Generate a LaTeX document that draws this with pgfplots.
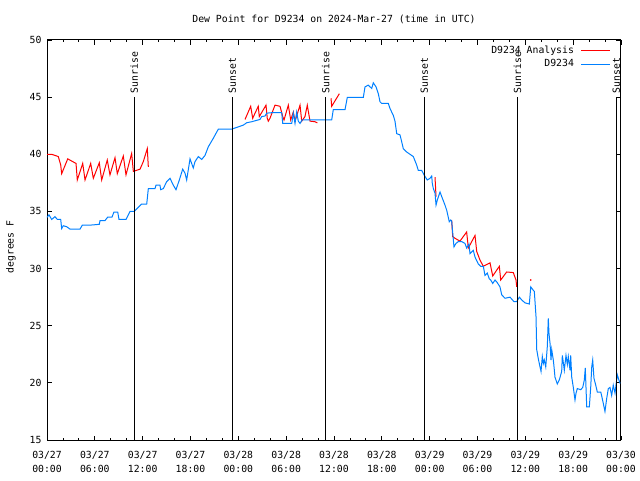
\documentclass[border=0pt]{standalone}
\usepackage{pgfplots}
\pgfplotsset{compat=1.18}
\usepackage{fontspec}
\setmainfont{DejaVu Sans Mono}
\definecolor{obsblue}{RGB}{0,128,255}
\definecolor{anared}{RGB}{255,0,0}

\begin{document}
\begin{tikzpicture}
\fontsize{9.8}{12}\selectfont
\useasboundingbox (0,0) rectangle (640pt,480pt);
\begin{axis}[
    at={(47pt,40pt)}, anchor=south west,
    scale only axis, width=574pt, height=400pt,
    xmin=0, xmax=72, ymin=15, ymax=50,
    axis line style={line width=1pt},
    every tick/.style={black, line width=0.8pt},
    major tick length=4.5pt, minor tick length=2.5pt,
    xtick={0,6,...,72},
    minor x tick num=2,
    xticklabels={{03/27\\00:00},{03/27\\06:00},{03/27\\12:00},{03/27\\18:00},
                 {03/28\\00:00},{03/28\\06:00},{03/28\\12:00},{03/28\\18:00},
                 {03/29\\00:00},{03/29\\06:00},{03/29\\12:00},{03/29\\18:00},
                 {03/30\\00:00}},
    xticklabel style={align=center, font=\fontsize{9.8}{13.5}\selectfont, yshift=-8pt},
    ytick={15,20,...,50},
    yticklabel style={font=\fontsize{9.8}{12}\selectfont, xshift=-2pt},
    /pgf/number format/assume math mode=true,
    title={Dew Point for D9234 on 2024-Mar-27 (time in UTC)},
    title style={at={(axis description cs:0.5,1.051)}, anchor=center, yshift=-6pt, font=\fontsize{9.8}{12}\selectfont},
    ylabel={degrees F},
    ylabel style={at={(axis description cs:-0.0627,0.4825)}, anchor=center, font=\fontsize{9.8}{12}\selectfont},
    legend style={draw=none, fill=none, at={(axis description cs:0.988,0.9925)}, anchor=north east,
        font=\fontsize{9.8}{12}\selectfont, row sep=2.3pt,
        nodes={inner sep=1pt, text height=7pt, text depth=2pt},
        /tikz/every odd column/.append style={column sep=6pt}},
    legend cell align=right,
    legend plot pos=right,
    legend image code/.code={\draw[#1] (0pt,0pt) -- (29pt,0pt);},
    unbounded coords=jump,
    clip=false,
]

% analysis (red)
\addplot[anared, line width=1pt] coordinates {
(0,40.0) (0.59,40.0) (1.42,39.8) (1.72,39.06) (1.84,38.3) (2.60,39.6) (3.22,39.36)
(3.64,39.2) (3.80,37.75) (4.48,39.2) (4.77,37.75) (5.48,39.2) (5.81,37.9) (6.56,39.26)
(6.86,37.75) (7.56,39.5) (7.90,38.2) (8.53,39.7) (8.82,38.3) (9.57,39.85) (9.91,38.2)
(10.62,40.07) (10.83,38.5) (11.25,38.6) (11.67,38.7) (12.08,39.36) (12.58,40.5) (12.71,38.9)
(12.8,nan)
(24.84,43.05) (25.55,44.2) (25.80,43.15) (26.50,44.2) (26.63,43.3) (27.47,44.3) (27.63,43.15)
(27.76,42.9) (27.97,43.15) (28.60,44.3) (29.23,44.2) (29.57,43.3) (29.73,43.0) (30.27,44.3)
(30.57,43.0) (30.90,43.7) (31.11,42.9) (31.74,44.3) (31.95,42.9) (32.36,43.3) (32.65,44.3)
(32.99,42.9) (33.62,42.85) (33.91,42.75)
(34.0,nan)
(35.63,44.9) (35.71,44.2) (36.67,45.3)
(36.8,nan)
(48.67,38.0) (48.80,36.3)
(48.9,nan)
(50.76,34.25) (50.89,32.8) (51.18,32.65) (51.80,32.4) (52.64,33.2) (52.85,31.8) (53.69,32.9)
(53.90,31.5) (54.31,30.75) (54.73,30.2) (55.57,30.5) (55.91,29.35) (56.74,30.2) (56.91,29.0)
(57.66,29.7) (58.49,29.65) (58.83,29.0) (58.92,28.4)
};
\addlegendentry{D9234 Analysis}

% observations (blue)
\addplot[obsblue, line width=1pt] coordinates {
(0,34.48) (0.25,34.7) (0.59,34.3) (1.0,34.54) (1.3,34.3) (1.72,34.3) (1.84,33.5) (2.04,33.75)
(2.47,33.66) (2.89,33.45) (4.14,33.45) (4.43,33.8) (5.39,33.8) (6.56,33.87) (6.65,34.2)
(7.28,34.2) (7.61,34.5) (8.15,34.5) (8.40,34.95) (8.87,34.95) (9.03,34.3) (9.91,34.3)
(10.41,35.0) (10.95,35.0) (11.45,35.36) (11.88,35.65) (12.51,35.65) (12.71,37.0) (13.55,37.0)
(13.67,37.3) (14.17,37.3) (14.26,36.9) (14.59,37.0) (15.01,37.6) (15.43,37.9) (15.84,37.3)
(16.18,36.9) (16.60,37.75) (17.02,38.7) (17.31,38.35) (17.52,37.75) (17.94,39.6) (18.35,38.8)
(18.56,39.35) (18.98,39.8) (19.41,39.55) (19.82,39.9) (20.23,40.65) (20.86,41.4) (21.49,42.2)
(23.17,42.2) (24.0,42.4) (24.62,42.55) (25.05,42.76) (25.68,42.85) (26.72,43.05) (26.93,43.3)
(27.35,43.35) (27.56,43.6) (28.39,43.65) (29.44,43.65) (29.57,42.7) (30.70,42.7) (30.90,43.6)
(31.11,42.7) (31.32,43.7) (31.52,42.9) (31.74,42.7) (31.99,43.0) (32.36,43.0) (35.71,43.0)
(35.91,43.9) (37.38,43.9) (37.67,44.98) (39.68,44.98) (39.89,45.9) (40.30,46.05) (40.73,45.76)
(40.93,46.26) (41.27,45.9) (41.56,45.3) (41.77,44.6) (41.98,44.45) (42.81,44.45) (43.03,44.0)
(43.44,43.4) (43.65,42.9) (43.87,41.8) (44.28,41.7) (44.49,41.1) (44.69,40.5) (45.12,40.2)
(45.53,40.0) (45.95,39.8) (46.37,39.06) (46.57,38.6) (47.0,38.6) (47.29,38.2) (47.70,37.75)
(48.04,37.9) (48.26,38.1) (48.33,37.45) (48.46,37.0) (48.67,36.6) (48.80,35.56) (48.96,36.0)
(49.30,36.7) (49.51,36.3) (49.92,35.56) (50.14,35.1) (50.46,34.1) (50.64,34.25) (50.76,34.15)
(51.05,31.9) (51.30,32.2) (51.59,32.36) (52.02,32.36) (52.43,32.2) (52.64,31.8) (52.93,32.15)
(53.06,31.3) (53.47,31.6) (53.69,31.0) (54.10,30.4) (54.40,30.2) (54.73,30.2) (54.94,29.4)
(55.23,29.6) (55.48,29.1) (55.66,29.0) (55.91,28.7) (56.20,29.0) (56.45,28.8) (56.82,28.4)
(57.04,27.7) (57.45,27.4) (58.08,27.5) (58.58,27.1) (58.92,27.1) (59.25,27.5) (59.55,27.25)
(59.96,27.0) (60.50,26.9) (60.68,28.4) (61.0,28.1) (61.13,28.0) (61.34,25.8) (61.43,22.9)
(61.63,22.1) (61.84,21.4) (61.97,21.0) (62.13,22.3) (62.26,21.7) (62.38,22.0) (62.56,21.4)
(62.76,23.2) (62.88,25.65) (62.97,24.3) (63.10,23.45) (63.22,22.0) (63.31,22.9) (63.51,22.0)
(63.60,21.4) (63.72,20.5) (64.01,19.9) (64.26,20.25) (64.56,21.0) (64.64,22.4) (64.76,21.8)
(64.89,21.1) (65.10,22.4) (65.27,21.6) (65.39,22.3) (65.61,21.1) (65.69,22.4) (65.82,20.5)
(66.02,19.6) (66.23,18.5) (66.36,19.1) (66.52,19.5) (66.95,19.4) (67.20,19.6) (67.40,20.25)
(67.52,21.3) (67.70,17.9) (68.03,17.9) (68.20,19.6) (68.33,21.4) (68.45,22.0) (68.61,20.4)
(68.83,19.8) (69.03,19.2) (69.46,19.2) (69.58,18.85) (69.78,18.2) (69.99,17.5) (70.21,18.65)
(70.41,19.5) (70.62,19.6) (70.83,18.9) (71.03,19.8) (71.25,19.1) (71.37,19.8) (71.54,20.7)
(71.67,20.4) (71.88,19.95)
};
\addlegendentry{D9234}

% lone analysis point
\addplot[anared, only marks, mark=*, mark size=0.6pt, forget plot] coordinates {(60.68,29.0)};

% sunrise / sunset markers
\addplot[black, line width=1pt, forget plot] coordinates {
(10.95,15) (10.95,45) (11,nan)
(23.25,15) (23.25,45) (23.3,nan)
(34.95,15) (34.95,45) (35,nan)
(47.33,15) (47.33,45) (47.4,nan)
(59.0,15) (59.0,45) (59.1,nan)
(71.4,15) (71.4,45)
};
\foreach \t/\lab in {10.95/Sunrise, 23.25/Sunset, 34.95/Sunrise, 47.33/Sunset, 59.0/Sunrise, 71.4/Sunset}{
  \edef\tmp{\noexpand\node[rotate=90, anchor=west, inner sep=1pt] at (axis cs:\t,45.25) {\lab};}
  \tmp
}
\end{axis}
\end{tikzpicture}
\end{document}
